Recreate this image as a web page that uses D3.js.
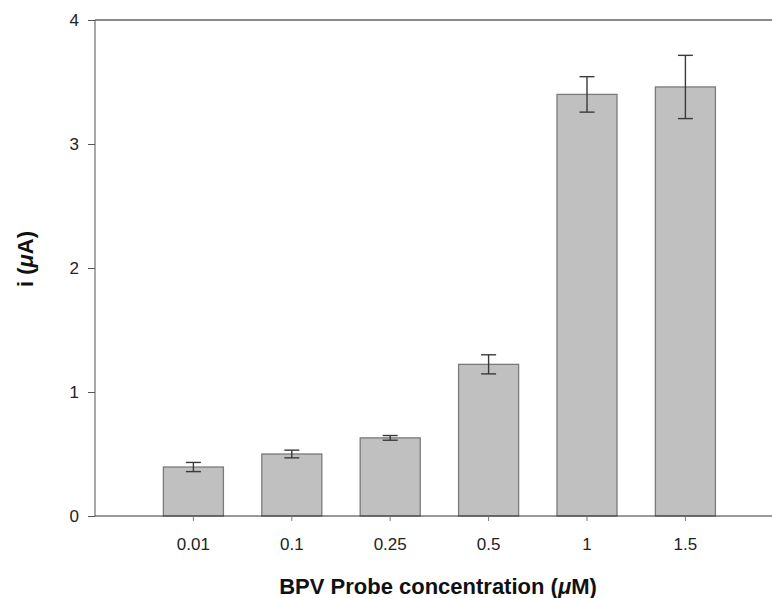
<!DOCTYPE html>
<html>
<head>
<meta charset="utf-8">
<script src="https://d3js.org/d3.v7.min.js"></script>
<style>
  body { margin: 0; background: #fff; }
  svg { display: block; font-family: "Liberation Sans", Arial, sans-serif; }
</style>
</head>
<body>
<script>
// values
const concentrations = ["0.01", "0.1", "0.25", "0.5", "1", "1.5"];
const currents = [0.395, 0.50, 0.63, 1.223, 3.40, 3.46];
const errors = [0.037, 0.031, 0.019, 0.077, 0.143, 0.255];
const yTicks = [0, 1, 2, 3, 4];

const W = 772, H = 598;
const plotL = 95, plotR = 772, plotT = 20, plotB = 516;
const step = 98.4;

const svg = d3.select("body").append("svg")
    .attr("width", W)
    .attr("height", H);

const x = d3.scaleBand()
    .domain(concentrations)
    .range([plotL + step * 0.5, plotL + step * 6.5])
    .paddingInner(0.39)
    .paddingOuter(0.195);

const y = d3.scaleLinear().domain([0, 4]).range([plotB, plotT]);

// top frame line
svg.append("line")
    .attr("x1", plotL).attr("x2", plotR)
    .attr("y1", plotT).attr("y2", plotT)
    .attr("stroke", "#8a8a8a")
    .attr("stroke-width", 2);

// bars
svg.selectAll("rect.bar")
    .data(concentrations)
    .join("rect")
    .attr("class", "bar")
    .attr("x", d => x(d))
    .attr("y", (d, i) => y(currents[i]))
    .attr("width", x.bandwidth())
    .attr("height", (d, i) => y(0) - y(currents[i]))
    .attr("fill", "#c0c0c0")
    .attr("stroke", "#7a7a7a")
    .attr("stroke-width", 1.3);

// error bars
const eb = svg.append("g").attr("stroke", "#3a3a3a").attr("stroke-width", 1.4);
concentrations.forEach((c, i) => {
    const cx = x(c) + x.bandwidth() / 2;
    const hi = y(currents[i] + errors[i]), lo = y(currents[i] - errors[i]);
    eb.append("line").attr("x1", cx).attr("x2", cx).attr("y1", hi).attr("y2", lo);
    eb.append("line").attr("x1", cx - 7.5).attr("x2", cx + 7.5).attr("y1", hi).attr("y2", hi);
    eb.append("line").attr("x1", cx - 7.5).attr("x2", cx + 7.5).attr("y1", lo).attr("y2", lo);
});

// y axis
const yAxis = svg.append("g")
    .attr("transform", `translate(${plotL},0)`)
    .call(d3.axisLeft(y).tickValues(yTicks).tickSize(7).tickPadding(9).tickFormat(d3.format("d")));
yAxis.select(".domain").attr("stroke", "#555").attr("d", `M0,${plotB}V${plotT}`);
yAxis.selectAll(".tick line").attr("stroke", "#555");
yAxis.selectAll(".tick text").attr("font-size", 17).attr("fill", "#222")
    .attr("font-family", "'Liberation Sans', Arial, sans-serif");

// x axis
const xAxis = svg.append("g")
    .attr("transform", `translate(0,${plotB})`)
    .call(d3.axisBottom(x).tickSize(5).tickPadding(17));
xAxis.select(".domain").attr("stroke", "#333").attr("d", `M${plotL},0H${plotR}`);
xAxis.selectAll(".tick line").attr("stroke", "#777");
xAxis.selectAll(".tick text").attr("font-size", 17).attr("fill", "#222")
    .attr("font-family", "'Liberation Sans', Arial, sans-serif");

// axis titles
const xt = svg.append("text")
    .attr("x", 438).attr("y", 594)
    .attr("text-anchor", "middle")
    .attr("font-size", 22).attr("font-weight", "bold").attr("fill", "#111");
xt.append("tspan").text("BPV Probe concentration (");
xt.append("tspan").attr("font-style", "italic").text("\u03bc");
xt.append("tspan").text("M)");

const yt = svg.append("text")
    .attr("transform", `translate(33,259) rotate(-90)`)
    .attr("text-anchor", "middle")
    .attr("font-size", 22).attr("font-weight", "bold").attr("fill", "#111");
yt.append("tspan").text("i (");
yt.append("tspan").attr("font-style", "italic").text("\u03bc");
yt.append("tspan").text("A)");
</script>
</body>
</html>
